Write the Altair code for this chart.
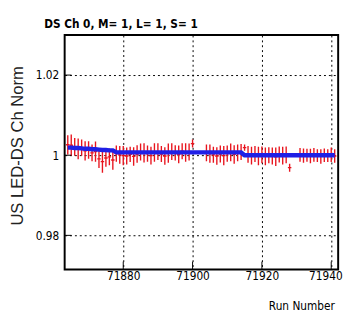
import altair as alt
import pandas as pd

# ---- data ----
runs = (list(range(71864, 71901)) + list(range(71904, 71929)) + list(range(71931, 71942)))

vals = [
    # 71864-71877
    1.0026, 1.0025, 1.0021, 1.0016, 1.0019, 1.0011, 1.0013, 1.0006, 1.0009, 0.9991, 0.9984, 0.9993, 0.9996, 0.9988,
    # 71878-71900
    1.0004, 1.0001, 0.9999, 0.9998, 1.0002, 0.9997, 1.0003, 1.0008, 1.0006, 1.0004, 0.9999, 1.0007, 1.0009, 1.0003,
    0.9998, 1.0005, 1.0009, 1.0006, 1.0002, 1.0010, 1.0007, 1.0008, 1.0029,
    # 71904-71928
    1.0006, 1.0004, 1.0001, 0.9998, 1.0003, 0.9999, 1.0004, 1.0007, 1.0002, 1.0006, 1.0008,
    1.0019,
    1.0002, 0.9999, 1.0003, 0.9998, 1.0001, 0.9997, 1.0000, 0.9998, 0.9996, 1.0002, 0.9999, 1.0001,
    0.9969,
    # 71931-71941
    1.0001, 0.9999, 1.0000, 0.9998, 1.0001, 0.9999, 0.9997, 1.0000, 0.9999, 1.0001, 0.9998,
]

errs = [
    0.0024, 0.0027, 0.0022, 0.0026, 0.0020, 0.0024, 0.0022, 0.0021, 0.0025, 0.0023, 0.0028, 0.0022, 0.0021, 0.0024,
    0.0020, 0.0022, 0.0024, 0.0021, 0.0019, 0.0023, 0.0022, 0.0021, 0.0024, 0.0020, 0.0022, 0.0023, 0.0021, 0.0020,
    0.0022, 0.0024, 0.0021, 0.0019, 0.0022, 0.0020, 0.0023, 0.0021, 0.0010,
    0.0021, 0.0023, 0.0020, 0.0022, 0.0021, 0.0024, 0.0020, 0.0022, 0.0023, 0.0021, 0.0020,
    0.0008,
    0.0021, 0.0022, 0.0020, 0.0023, 0.0021, 0.0022, 0.0020, 0.0021, 0.0023, 0.0020, 0.0022, 0.0021,
    0.0010,
    0.0017, 0.0018, 0.0016, 0.0018, 0.0017, 0.0016, 0.0018, 0.0017, 0.0016, 0.0018, 0.0017,
]

fit = (
    [1.0019, 1.0019, 1.0018, 1.0018, 1.0017, 1.0016, 1.0016, 1.0015, 1.0015, 1.0014, 1.0013, 1.0013, 1.0012, 1.0012]
    + [1.0007] * 23
    + [1.0007] * 11
    + [1.0000] * 14
    + [1.0000] * 11
)

x_ticks = [71880, 71900, 71920, 71940]
y_ticks = [0.98, 1.0, 1.02]

title_text = "DS Ch 0, M= 1, L= 1, S= 1"
x_title = "Run Number"
y_title = "US LED-DS Ch Norm"

df = pd.DataFrame({"run": runs, "val": vals, "err": errs, "fit": fit})
df["lo"] = df["val"] - df["err"]
df["hi"] = df["val"] + df["err"]
df["left"] = df["run"] - 0.5
df["right"] = df["run"] + 0.5

xdf = pd.DataFrame({"t": x_ticks})
ydf = pd.DataFrame({"t": y_ticks})
tdf = pd.DataFrame({"label": [title_text]})

XDOM = [71863.1, 71942]
YDOM = [0.9715, 1.030]
xs = alt.Scale(domain=XDOM, nice=False, zero=False)
ys = alt.Scale(domain=YDOM, nice=False, zero=False)

NARROW = "'Liberation Sans Narrow', 'DejaVu Sans Condensed', 'Liberation Sans', Arial, sans-serif"
W, H = 280, 240

axis_x = alt.Axis(
    values=x_ticks, format="d", title=x_title, grid=True, gridDash=[2, 3], gridColor="black",
    gridWidth=1, gridOpacity=1, ticks=False, domain=False, labelPadding=1,
    labelFont=NARROW, labelFontSize=12, labelColor="black", labelBaseline="top",
    labelOffset={"condition": {"test": "datum.value >= 71940", "value": -6}, "value": 0},
    titleFont=NARROW, titleFontSize=12, titleFontWeight="normal", titleColor="black",
    titleAnchor="end", titleAlign="right", titleBaseline="alphabetic", titleX=276, titleY=41,
)
axis_y = alt.Axis(
    values=y_ticks, format="~g", title=y_title, grid=True, gridDash=[2, 3], gridColor="black",
    gridWidth=1, gridOpacity=1, ticks=False, domain=False, labelPadding=6,
    labelFont=NARROW, labelFontSize=12, labelColor="black",
    titleFont="'Liberation Sans', Arial, sans-serif", titleFontSize=17, titleFontWeight="normal",
    titleColor="#222222", titleAngle=270, titleAlign="center", titleBaseline="middle",
    titleX=-48, titleY=113,
)

red = "#e8141e"
vbars = alt.Chart(df).mark_rule(color=red, strokeWidth=1.4, clip=True).encode(
    x=alt.X("run:Q", scale=xs, axis=axis_x),
    y=alt.Y("lo:Q", scale=ys, axis=axis_y),
    y2="hi:Q",
)
hbars = alt.Chart(df).mark_rule(color=red, strokeWidth=1.4, clip=True).encode(
    x=alt.X("left:Q", scale=xs, axis=axis_x),
    x2="right:Q",
    y=alt.Y("val:Q", scale=ys, axis=axis_y),
)
fitline = alt.Chart(df).mark_line(color="#1f1fe6", strokeWidth=4.5, clip=True).encode(
    x=alt.X("run:Q", scale=xs, axis=axis_x),
    y=alt.Y("fit:Q", scale=ys, axis=axis_y),
)
xtickmarks = alt.Chart(xdf).mark_rule(color="black", strokeWidth=1).encode(
    x=alt.X("t:Q", scale=xs, axis=axis_x),
    y=alt.value(H),
    y2=alt.value(H - 8),
)
ytickmarks = alt.Chart(ydf).mark_rule(color="black", strokeWidth=1).encode(
    y=alt.Y("t:Q", scale=ys, axis=axis_y),
    x=alt.value(0),
    x2=alt.value(7),
)
title_mark = alt.Chart(tdf).mark_text(
    align="left", baseline="alphabetic", font=NARROW, fontSize=12, fontWeight="bold", color="black"
).encode(
    text="label:N",
    x=alt.value(-21),
    y=alt.value(-7),
)

chart = alt.layer(vbars, hbars, fitline, xtickmarks, ytickmarks, title_mark).properties(
    width=W,
    height=H,
    autosize=alt.AutoSizeParams(type="none"),
    padding={"left": 58, "top": 24, "right": 7, "bottom": 43},
).configure(background="white").configure_view(stroke="black", strokeWidth=2)

chart.save("out.html", embed_options={"renderer": "svg", "actions": False})
